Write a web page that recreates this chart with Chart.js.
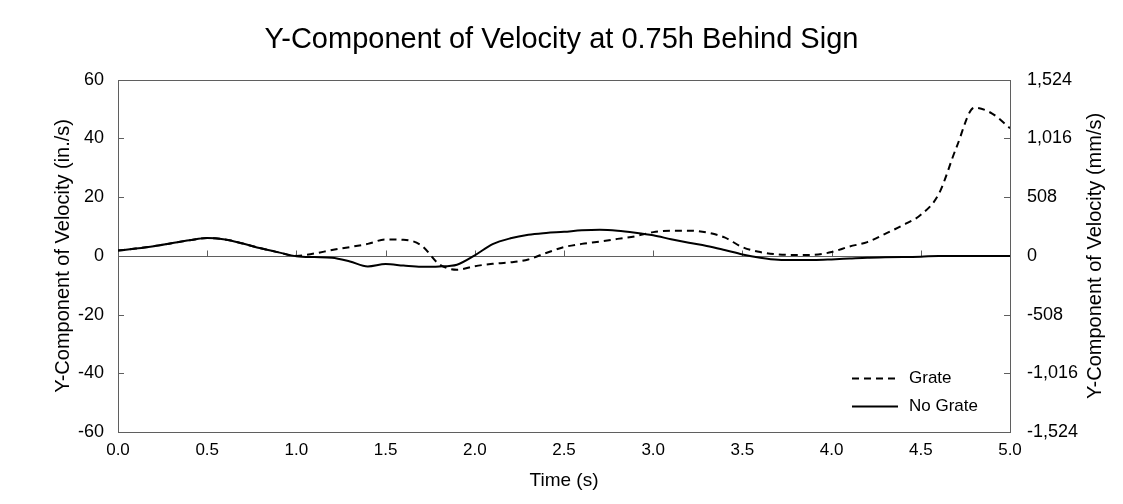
<!DOCTYPE html>
<html>
<head>
<meta charset="utf-8">
<script src="https://cdn.jsdelivr.net/npm/chart.js@4"></script>
<style>
  html, body { margin: 0; padding: 0; background: #fff; }
  #wrap { width: 1123px; height: 504px; }
</style>
</head>
<body>
<div id="wrap"><canvas id="velocity-chart" width="1123" height="504"></canvas></div>
<script>
// time samples (s)
const times = [
  0.0, 0.1, 0.2, 0.3, 0.4, 0.5, 0.6, 0.7, 0.8, 0.9,
  1.0, 1.1, 1.2, 1.3, 1.4, 1.5, 1.6, 1.7, 1.8, 1.9,
  2.0, 2.1, 2.2, 2.3, 2.4, 2.5, 2.6, 2.7, 2.8, 2.9,
  3.0, 3.1, 3.2, 3.3, 3.4, 3.5, 3.6, 3.7, 3.8, 3.9,
  4.0, 4.1, 4.2, 4.3, 4.4, 4.5, 4.6, 4.7, 4.8, 4.9, 5.0
];
// Y-component of velocity (in./s)
const grate = [
  1.8, 2.5, 3.3, 4.3, 5.3, 6.1, 5.6, 4.2, 2.6, 1.2,
  0.0, 0.8, 2.0, 3.0, 4.1, 5.6, 5.5, 3.6, -2.8, -4.7,
  -3.5, -2.7, -2.2, -1.2, 1.0, 3.0, 4.1, 4.9, 5.8, 6.7,
  8.1, 8.6, 8.6, 8.0, 6.3, 3.0, 1.3, 0.5, 0.3, 0.4,
  1.3, 3.2, 4.7, 7.5, 10.5, 14.0, 21.0, 37.0, 50.5, 48.5, 43.5
];
const noGrate = [
  1.8, 2.5, 3.3, 4.3, 5.3, 6.1, 5.6, 4.2, 2.6, 1.2,
  -0.1, -0.4, -0.6, -1.9, -3.6, -2.8, -3.3, -3.7, -3.6, -3.0,
  0.2, 4.0, 6.0, 7.2, 7.8, 8.2, 8.7, 8.9, 8.6, 7.9,
  7.0, 5.7, 4.5, 3.4, 2.0, 0.5, -0.6, -1.3, -1.4, -1.4,
  -1.2, -0.9, -0.6, -0.5, -0.4, -0.3, 0.0, 0.0, 0.0, 0.0, 0.0
];
const seriesLabels = ["Grate", "No Grate"];
const leftTicks = [-60, -40, -20, 0, 20, 40, 60];
const rightTicks = [-1524, -1016, -508, 0, 508, 1016, 1524];

const font = "'Liberation Sans', Arial, sans-serif";
const axisColor = "#5f5f5f";

const toPoints = (vals) => vals.map((v, i) => ({ x: times[i], y: v }));

const framePlugin = {
  id: "frame",
  beforeDatasetsDraw(chart) {
    const { ctx, chartArea: a, scales } = chart;
    const zeroY = Math.round(scales.y.getPixelForValue(0)) + 0.5;
    ctx.save();
    ctx.strokeStyle = axisColor;
    ctx.lineWidth = 1;
    ctx.strokeRect(Math.round(a.left) + 0.5, Math.round(a.top) + 0.5,
      Math.round(a.right - a.left), Math.round(a.bottom - a.top));
    ctx.beginPath();
    ctx.moveTo(a.left, zeroY);
    ctx.lineTo(a.right, zeroY);
    // x ticks pointing up from the zero line
    scales.x.ticks.forEach((t) => {
      const px = Math.round(scales.x.getPixelForValue(t.value)) + 0.5;
      ctx.moveTo(px, zeroY);
      ctx.lineTo(px, zeroY - 6);
    });
    // inward ticks on both y axes
    scales.y.ticks.forEach((t) => {
      const py = Math.round(scales.y.getPixelForValue(t.value)) + 0.5;
      ctx.moveTo(a.left, py);
      ctx.lineTo(a.left + 6, py);
    });
    scales.y2.ticks.forEach((t) => {
      const py = Math.round(scales.y2.getPixelForValue(t.value)) + 0.5;
      ctx.moveTo(a.right, py);
      ctx.lineTo(a.right - 6, py);
    });
    ctx.stroke();
    ctx.restore();
  },
  afterDraw(chart) {
    const { ctx, chartArea: a } = chart;
    ctx.save();
    // right axis title, reading bottom to top
    ctx.fillStyle = "#000";
    ctx.font = "20px " + font;
    ctx.textAlign = "center";
    ctx.textBaseline = "middle";
    ctx.translate(1095, (a.top + a.bottom) / 2);
    ctx.rotate(-Math.PI / 2);
    ctx.fillText("Y-Component of Velocity (mm/s)", 0, 0);
    ctx.restore();

    // legend
    ctx.save();
    ctx.font = "17px " + font;
    ctx.textAlign = "left";
    ctx.textBaseline = "middle";
    chart.data.datasets.forEach((ds, i) => {
      const y = 378.5 + i * 28;
      ctx.strokeStyle = ds.borderColor;
      ctx.lineWidth = ds.borderWidth;
      ctx.setLineDash(ds.borderDash || []);
      ctx.beginPath();
      ctx.moveTo(852, y);
      ctx.lineTo(898, y);
      ctx.stroke();
      ctx.fillStyle = "#000";
      ctx.fillText(ds.label, 909, y);
    });
    ctx.restore();
  },
};

const ctx = document.getElementById("velocity-chart");
const chart = new Chart(ctx, {
  type: "line",
  data: {
    datasets: [
      {
        label: seriesLabels[0],
        data: toPoints(grate),
        borderColor: "#000",
        borderWidth: 2,
        borderDash: [7, 5],
        pointRadius: 0,
        cubicInterpolationMode: "monotone",
        yAxisID: "y",
      },
      {
        label: seriesLabels[1],
        data: toPoints(noGrate),
        borderColor: "#000",
        borderWidth: 2,
        pointRadius: 0,
        cubicInterpolationMode: "monotone",
        yAxisID: "y",
      },
    ],
  },
  options: {
    responsive: false,
    animation: false,
    events: [],
    layout: { padding: 0 },
    plugins: {
      legend: { display: false },
      tooltip: { enabled: false },
      title: {
        display: true,
        text: "Y-Component of Velocity at 0.75h Behind Sign",
        color: "#000",
        font: { family: font, size: 29, weight: "normal" },
        padding: { top: 23, bottom: 22 },
      },
    },
    scales: {
      x: {
        type: "linear",
        min: 0,
        max: 5,
        grid: { display: false, drawTicks: false },
        border: { display: false },
        ticks: {
          stepSize: 0.5,
          padding: 8,
          color: "#000",
          font: { family: font, size: 17 },
          maxRotation: 0,
          callback: (v) => v.toFixed(1),
        },
        title: {
          display: true,
          text: "Time (s)",
          color: "#000",
          font: { family: font, size: 19 },
          padding: { top: 0, bottom: 12 },
        },
        afterFit: (s) => { s.height = 72; },
      },
      y: {
        position: "left",
        min: -60,
        max: 60,
        grid: { display: false, drawTicks: false },
        border: { display: false },
        ticks: {
          stepSize: 20,
          padding: 14,
          color: "#000",
          font: { family: font, size: 18 },
        },
        afterBuildTicks: (s) => { s.ticks = leftTicks.map((v) => ({ value: v })); },
        title: {
          display: true,
          text: "Y-Component of Velocity (in./s)",
          color: "#000",
          font: { family: font, size: 20 },
          padding: { top: 51, bottom: 0 },
        },
        afterFit: (s) => { s.width = 118; },
      },
      y2: {
        position: "right",
        min: -1524,
        max: 1524,
        grid: { display: false, drawTicks: false },
        border: { display: false },
        ticks: {
          padding: 17,
          color: "#000",
          font: { family: font, size: 18 },
        },
        afterBuildTicks: (s) => { s.ticks = rightTicks.map((v) => ({ value: v })); },
        afterFit: (s) => { s.width = 113; },
      },
    },
  },
  plugins: [framePlugin],
});
</script>
</body>
</html>
